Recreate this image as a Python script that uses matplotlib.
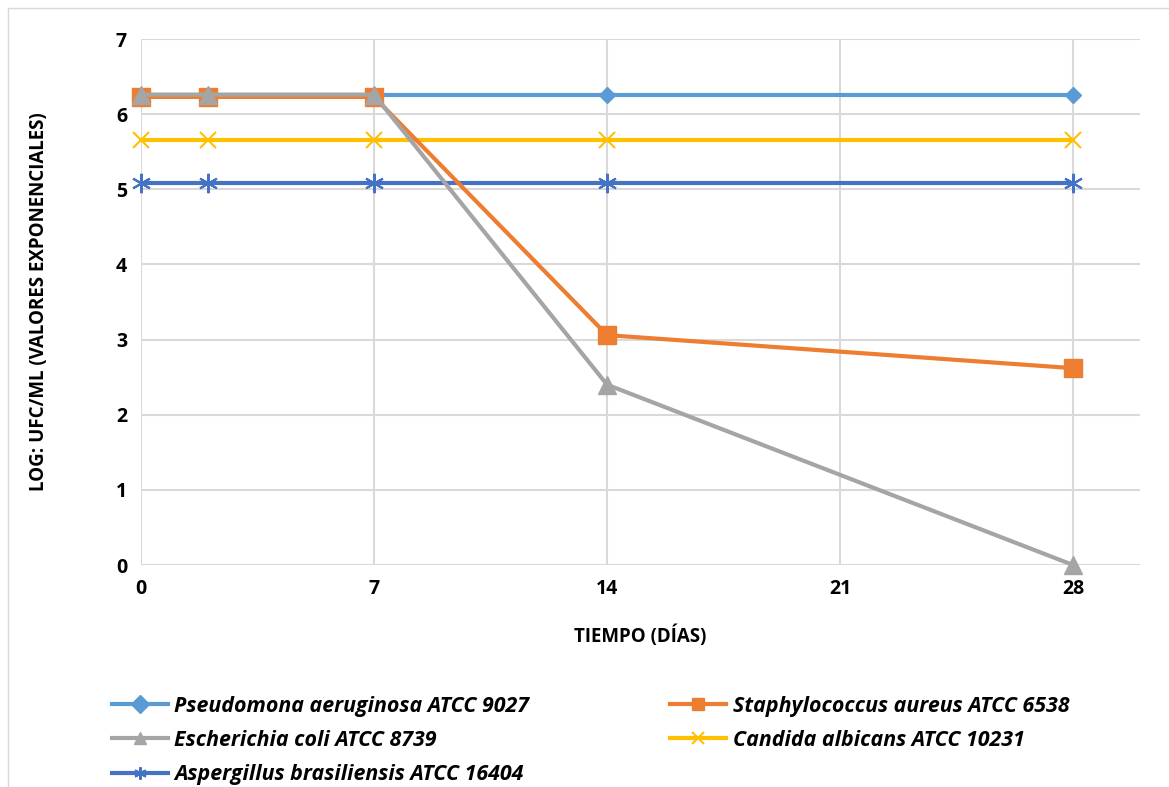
import matplotlib.pyplot as plt
from matplotlib.patches import Rectangle

# --- Data ---
days = [0, 2, 7, 14, 28]
pseudomona = [6.26, 6.26, 6.26, 6.26, 6.26]
staphylococcus = [6.23, 6.23, 6.23, 3.06, 2.62]
escherichia = [6.26, 6.26, 6.26, 2.40, 0.0]
candida = [5.65, 5.65, 5.65, 5.65, 5.65]
aspergillus = [5.09, 5.09, 5.09, 5.09, 5.09]

labels = ['Pseudomona aeruginosa ATCC 9027',
          'Staphylococcus aureus ATCC 6538',
          'Escherichia coli ATCC 8739',
          'Candida albicans ATCC 10231',
          'Aspergillus brasiliensis ATCC 16404']
x_ticks = [0, 7, 14, 21, 28]
y_ticks = [0, 1, 2, 3, 4, 5, 6, 7]

plt.rcParams['font.family'] = ['Open Sans', 'DejaVu Sans']

fig = plt.figure(figsize=(11.69, 7.87), dpi=100)
ax = fig.add_axes([0.1206, 0.282, 0.8544, 0.6684])

# light frame around the chart area
fig.patches.append(Rectangle((0.007, -0.01), 1.1, 1.0, transform=fig.transFigure,
                             fill=False, edgecolor='#D9D9D9', linewidth=1))

lw = 3
h1, = ax.plot(days, pseudomona, color='#5B9BD5', lw=lw, marker='D', ms=8, clip_on=False)
h5, = ax.plot(days, aspergillus, color='#4472C4', lw=lw, marker=(6, 2, 0), ms=14, mew=1.5, clip_on=False)
h4, = ax.plot(days, candida, color='#FFC000', lw=lw, marker='x', ms=12, mew=1.5, clip_on=False)
h2, = ax.plot(days, staphylococcus, color='#ED7D31', lw=lw, marker='s', ms=13, clip_on=False)
h3, = ax.plot(days, escherichia, color='#A5A5A5', lw=lw, marker='^', ms=13, clip_on=False)

ax.set_xlim(0, 30)
ax.set_ylim(0, 7)
ax.set_xticks(x_ticks)
ax.set_yticks(y_ticks)
ax.grid(True, color='#D9D9D9', linewidth=1.5)
ax.set_axisbelow(True)
for s in ax.spines.values():
    s.set_visible(False)
ax.tick_params(length=0, labelsize=14, pad=10)
for t in ax.get_xticklabels() + ax.get_yticklabels():
    t.set_fontweight('bold')

ax.set_xlabel('TIEMPO (DÍAS)', fontsize=13.5, fontweight='bold', labelpad=19)
ax.set_ylabel('LOG: UFC/ML (VALORES EXPONENCIALES)', fontsize=13.5, fontweight='bold', labelpad=48)

# legend filled column-wise: reorder so rows read left-to-right like the reference
handles = [h1, h3, h5, h2, h4]
names = [labels[0], labels[2], labels[4], labels[1], labels[3]]
leg = fig.legend(handles, names, loc='lower left', bbox_to_anchor=(0.0796, -0.022),
                 ncol=2, frameon=False, handlelength=2.6, handletextpad=0.3,
                 columnspacing=6.6, labelspacing=0.62,
                 prop={'size': 15.4, 'style': 'italic', 'weight': 'bold'})
for line in leg.get_lines():
    line.set_markersize(9)

fig.savefig('out.png', dpi=100)
